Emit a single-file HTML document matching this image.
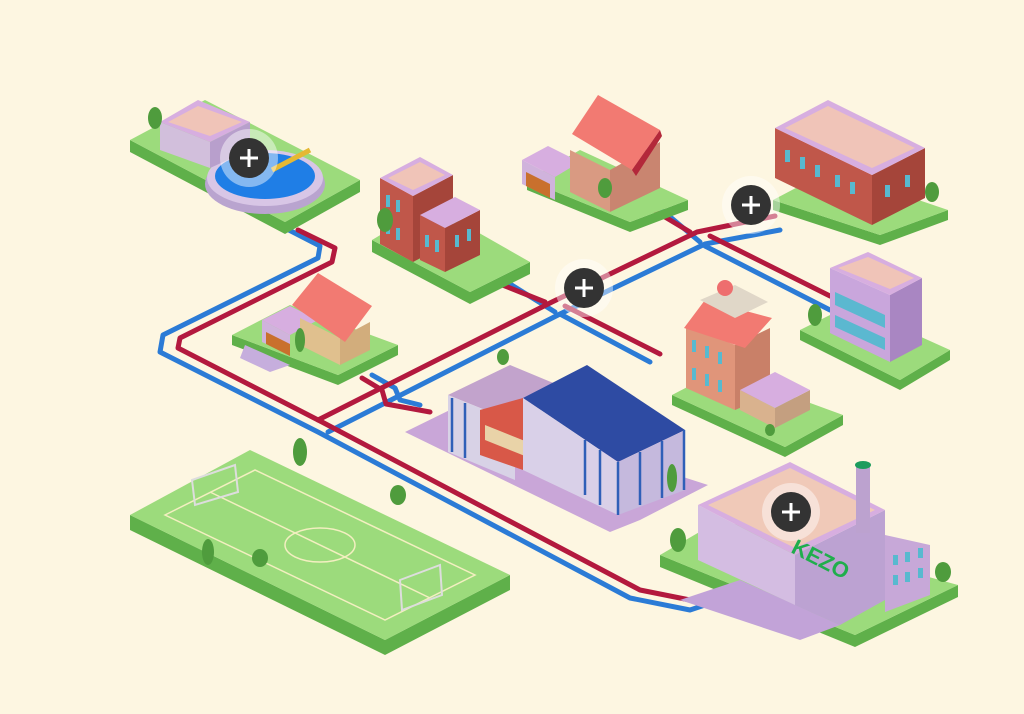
<!DOCTYPE html>
<html><head><meta charset="utf-8"><style>
html,body{margin:0;padding:0;background:#fdf6e1;}
svg{display:block;}
</style></head><body>
<svg width="1024" height="714" viewBox="0 0 1024 714" xmlns="http://www.w3.org/2000/svg">
<rect width="1024" height="714" fill="#fdf6e1"/>
<!-- pipes -->
<g fill="none" stroke-width="5" stroke-linejoin="round" stroke-linecap="round">
<g stroke="#2b7bd6">
<polyline points="285,228 320,246 318,258 163,335 160,352 318,432 630,598 690,610 720,600"/>
<polyline points="328,432 560,314 705,244 780,230"/>
<polyline points="705,246 830,310"/>
<polyline points="700,242 662,210"/>
<polyline points="555,312 510,284"/>
<polyline points="560,314 650,362"/>
<polyline points="372,375 395,388 400,400 420,405"/>
</g>
<g stroke="#b3193e">
<polyline points="298,230 335,248 332,262 180,338 178,348 322,422 640,590 700,602 725,590"/>
<polyline points="318,420 552,302 697,232 775,216"/>
<polyline points="710,236 830,296"/>
<polyline points="690,232 650,208"/>
<polyline points="545,302 500,284"/>
<polyline points="565,306 660,354"/>
<polyline points="362,378 382,390 386,404 430,412"/>
</g>
</g>
<!-- tiles -->
<g stroke="none">
<g fill="#5fb04a">
<polygon points="130,140 285,222 360,180 360,192 285,234 130,152"/>
<polygon points="372,240 470,292 530,262 530,274 470,304 372,252"/>
<polygon points="527,180 630,222 688,200 688,210 630,232 527,190"/>
<polygon points="773,200 880,235 948,210 948,220 880,245 773,210"/>
<polygon points="232,335 338,375 398,345 398,355 338,385 232,345"/>
<polygon points="800,330 900,380 950,350 950,360 900,390 800,340"/>
<polygon points="672,395 785,447 843,415 843,425 785,457 672,405"/>
<polygon points="130,515 385,640 510,575 510,590 385,655 130,530"/>
<polygon points="660,555 855,635 958,585 958,597 855,647 660,567"/>
</g>
<g fill="#9cdb7c">
<polygon points="130,140 205,100 360,180 285,222"/>
<polygon points="372,240 430,205 530,262 470,292"/>
<polygon points="527,180 580,150 688,200 630,222"/>
<polygon points="773,200 830,170 948,210 880,235"/>
<polygon points="232,335 290,305 398,345 338,375"/>
<polygon points="800,330 850,305 950,350 900,380"/>
<polygon points="672,395 720,370 843,415 785,447"/>
<polygon points="130,515 250,450 510,575 385,640"/>
<polygon points="660,555 720,520 958,585 855,635"/>
</g>
<!-- football field lines -->
<g fill="none" stroke="#f3efc0" stroke-width="1.5">
<polygon points="165,515 255,470 475,575 385,620"/>
<line x1="210" y1="492" x2="430" y2="598"/>
<ellipse cx="320" cy="545" rx="35" ry="17"/>
</g>
<!-- sports hall -->
<polygon points="405,432 460,405 708,485 640,520 610,532" fill="#c9a6d8"/>
<polygon points="448,395 510,365 575,392 515,422" fill="#c2a3cc"/>
<polygon points="448,395 515,422 515,480 448,452" fill="#d8d2e6"/>
<polygon points="480,410 523,398 523,470 480,455" fill="#d85848"/>
<polygon points="485,425 560,455 560,470 485,440" fill="#e9d3a8"/>
<polygon points="523,398 587,365 685,430 618,462" fill="#2e4ba3"/>
<polygon points="523,398 618,462 618,515 523,470" fill="#d9d0e8"/>
<polygon points="618,462 685,430 685,490 618,515" fill="#c5b9dd"/>
<g stroke="#2f5fb8" stroke-width="2.5">
<line x1="452" y1="398" x2="452" y2="452"/><line x1="465" y1="403" x2="465" y2="458"/>
<line x1="585" y1="440" x2="585" y2="495"/><line x1="600" y1="450" x2="600" y2="505"/>
<line x1="618" y1="462" x2="618" y2="515"/><line x1="640" y1="452" x2="640" y2="505"/>
<line x1="662" y1="441" x2="662" y2="498"/><line x1="684" y1="430" x2="684" y2="490"/>
</g>
<!-- water treatment -->
<ellipse cx="265" cy="184" rx="60" ry="30" fill="#b9a4cf"/>
<ellipse cx="265" cy="178" rx="58" ry="28" fill="#d8c6e6"/>
<ellipse cx="265" cy="176" rx="50" ry="23" fill="#1f7ee6"/>
<polygon points="160,122 160,150 210,168 210,142" fill="#d2bfdc"/>
<polygon points="210,142 250,122 250,150 210,168" fill="#b89fcc"/>
<polygon points="160,122 198,100 250,122 210,142" fill="#d7aee0"/>
<polygon points="168,122 198,106 242,122 210,136" fill="#f0c4b8"/>
<line x1="272" y1="170" x2="310" y2="150" stroke="#e5b833" stroke-width="5"/>
<!-- apartment middle -->
<polygon points="380,178 413,196 413,262 380,244" fill="#c0574a"/>
<polygon points="413,196 453,175 453,241 413,262" fill="#a5453a"/>
<polygon points="380,178 420,157 453,175 413,196" fill="#d7aee0"/>
<polygon points="388,178 420,162 445,175 413,190" fill="#f0c4b8"/>
<polygon points="420,215 445,228 445,272 420,260" fill="#c0574a"/>
<polygon points="445,228 480,210 480,255 445,272" fill="#a5453a"/>
<polygon points="420,215 455,197 480,210 445,228" fill="#d7aee0"/>
<g fill="#58b9cf"><rect x="386" y="195" width="4" height="12"/><rect x="396" y="200" width="4" height="12"/><rect x="386" y="222" width="4" height="12"/><rect x="396" y="228" width="4" height="12"/><rect x="425" y="235" width="4" height="12"/><rect x="435" y="240" width="4" height="12"/><rect x="455" y="235" width="4" height="12"/><rect x="467" y="229" width="4" height="12"/></g>
<!-- house top -->
<polygon points="522,160 555,177 555,200 522,184" fill="#d0b3dc"/>
<polygon points="522,160 548,146 580,162 555,177" fill="#d7aee0"/>
<polygon points="526,172 550,184 550,198 526,186" fill="#c9702d"/>
<polygon points="570,150 610,170 610,212 570,192" fill="#d99a82"/>
<polygon points="610,170 660,142 660,188 610,212" fill="#c98570"/>
<polygon points="572,134 598,95 660,130 632,170" fill="#f27a72"/>
<polygon points="632,170 660,130 662,136 636,176" fill="#b3283a"/>
<!-- apartment top right -->
<polygon points="775,128 872,175 872,225 775,178" fill="#c0574a"/>
<polygon points="872,175 925,148 925,198 872,225" fill="#a5453a"/>
<polygon points="775,128 828,100 925,148 872,175" fill="#d7aee0"/>
<polygon points="785,128 828,106 915,148 872,168" fill="#f0c4b8"/>
<g fill="#58b9cf"><rect x="785" y="150" width="5" height="12"/><rect x="800" y="157" width="5" height="12"/><rect x="815" y="165" width="5" height="12"/><rect x="835" y="175" width="5" height="12"/><rect x="850" y="182" width="5" height="12"/><rect x="885" y="185" width="5" height="12"/><rect x="905" y="175" width="5" height="12"/></g>
<!-- house left -->
<polygon points="262,320 290,335 290,355 262,342" fill="#d0b3dc"/>
<polygon points="262,320 290,306 318,320 290,335" fill="#d7aee0"/>
<polygon points="266,332 290,344 290,356 266,344" fill="#c9702d"/>
<polygon points="245,345 290,365 270,372 240,358" fill="#c6aedd"/>
<polygon points="300,318 340,338 340,365 300,345" fill="#e0c08e"/>
<polygon points="340,338 370,322 370,350 340,365" fill="#d2ad7c"/>
<polygon points="292,305 318,273 372,306 345,342" fill="#f27a72"/>
<!-- office -->
<polygon points="830,268 890,295 890,362 830,333" fill="#c9a6dc"/>
<polygon points="890,295 922,278 922,345 890,362" fill="#a986c2"/>
<polygon points="830,268 868,252 922,278 890,295" fill="#d7aee0"/>
<polygon points="838,268 868,257 914,278 890,289" fill="#f0c4b8"/>
<polygon points="835,292 885,315 885,328 835,305" fill="#5bb8d0"/>
<polygon points="835,315 885,338 885,350 835,327" fill="#5bb8d0"/>
<!-- tall house -->
<polygon points="686,325 735,345 735,410 686,388" fill="#e0957a"/>
<polygon points="735,345 770,328 770,395 735,410" fill="#c98068"/>
<polygon points="684,328 705,300 772,318 745,348" fill="#f27a72"/>
<polygon points="700,300 735,285 768,302 735,318" fill="#e0d7c8"/>
<circle cx="725" cy="288" r="8" fill="#ee6e6e"/>
<polygon points="740,390 775,408 775,428 740,410" fill="#d9b28e"/>
<polygon points="775,408 810,390 810,410 775,428" fill="#c49f80"/>
<polygon points="740,390 775,372 810,390 775,408" fill="#d7aee0"/>
<g fill="#58b9cf"><rect x="692" y="340" width="4" height="12"/><rect x="705" y="346" width="4" height="12"/><rect x="718" y="352" width="4" height="12"/><rect x="692" y="368" width="4" height="12"/><rect x="705" y="374" width="4" height="12"/><rect x="718" y="380" width="4" height="12"/></g>
<!-- factory -->
<polygon points="680,600 740,580 840,625 800,640" fill="#c2a3d8"/>
<polygon points="698,505 795,555 795,605 698,560" fill="#d4bde2"/>
<polygon points="795,555 885,510 885,600 840,625 795,605" fill="#bca2d2"/>
<polygon points="698,505 790,462 885,510 795,555" fill="#d7aee0"/>
<polygon points="708,505 790,468 875,510 795,548" fill="#f0c9b8"/>
<polygon points="885,535 930,545 930,595 885,612" fill="#c7a8d8"/>
<rect x="856" y="463" width="14" height="70" fill="#bca2cf"/>
<ellipse cx="863" cy="465" rx="8" ry="4" fill="#1c9c5d"/>
<g fill="#58b9cf"><rect x="893" y="555" width="5" height="10"/><rect x="905" y="552" width="5" height="10"/><rect x="918" y="548" width="5" height="10"/><rect x="893" y="575" width="5" height="10"/><rect x="905" y="572" width="5" height="10"/><rect x="918" y="568" width="5" height="10"/></g>
<!-- trees -->
<g fill="#4f9c3d">
<ellipse cx="155" cy="118" rx="7" ry="11"/><ellipse cx="385" cy="220" rx="8" ry="12"/>
<ellipse cx="605" cy="188" rx="7" ry="10"/><ellipse cx="300" cy="340" rx="5" ry="12"/>
<ellipse cx="815" cy="315" rx="7" ry="11"/><ellipse cx="300" cy="452" rx="7" ry="14"/>
<ellipse cx="398" cy="495" rx="8" ry="10"/><ellipse cx="260" cy="558" rx="8" ry="9"/>
<ellipse cx="208" cy="552" rx="6" ry="13"/><ellipse cx="678" cy="540" rx="8" ry="12"/>
<ellipse cx="943" cy="572" rx="8" ry="10"/><ellipse cx="932" cy="192" rx="7" ry="10"/>
<ellipse cx="672" cy="478" rx="5" ry="14"/><ellipse cx="503" cy="357" rx="6" ry="8"/>
<ellipse cx="770" cy="430" rx="5" ry="6"/>
</g>
<!-- goals -->
<g fill="none" stroke="#ddd" stroke-width="2">
<polygon points="192,480 235,465 238,492 195,505"/>
<polygon points="400,580 440,565 442,595 402,610"/>
</g>
</g>
<text x="790" y="552" font-family="Liberation Sans, sans-serif" font-weight="bold" font-size="22" fill="#1fae4c" transform="rotate(27 790 552)">KEZO</text>
<!-- plus buttons -->
<g>
<g transform="translate(249,158)"><circle r="29" fill="#ffffff" fill-opacity="0.45"/><circle r="20" fill="#333"/><path d="M-9 0H9M0 -9V9" stroke="#fff" stroke-width="3"/></g>
<g transform="translate(751,205)"><circle r="29" fill="#ffffff" fill-opacity="0.45"/><circle r="20" fill="#333"/><path d="M-9 0H9M0 -9V9" stroke="#fff" stroke-width="3"/></g>
<g transform="translate(584,288)"><circle r="29" fill="#ffffff" fill-opacity="0.45"/><circle r="20" fill="#333"/><path d="M-9 0H9M0 -9V9" stroke="#fff" stroke-width="3"/></g>
<g transform="translate(791,512)"><circle r="29" fill="#ffffff" fill-opacity="0.45"/><circle r="20" fill="#333"/><path d="M-9 0H9M0 -9V9" stroke="#fff" stroke-width="3"/></g>
</g>
</svg>
</body></html>
